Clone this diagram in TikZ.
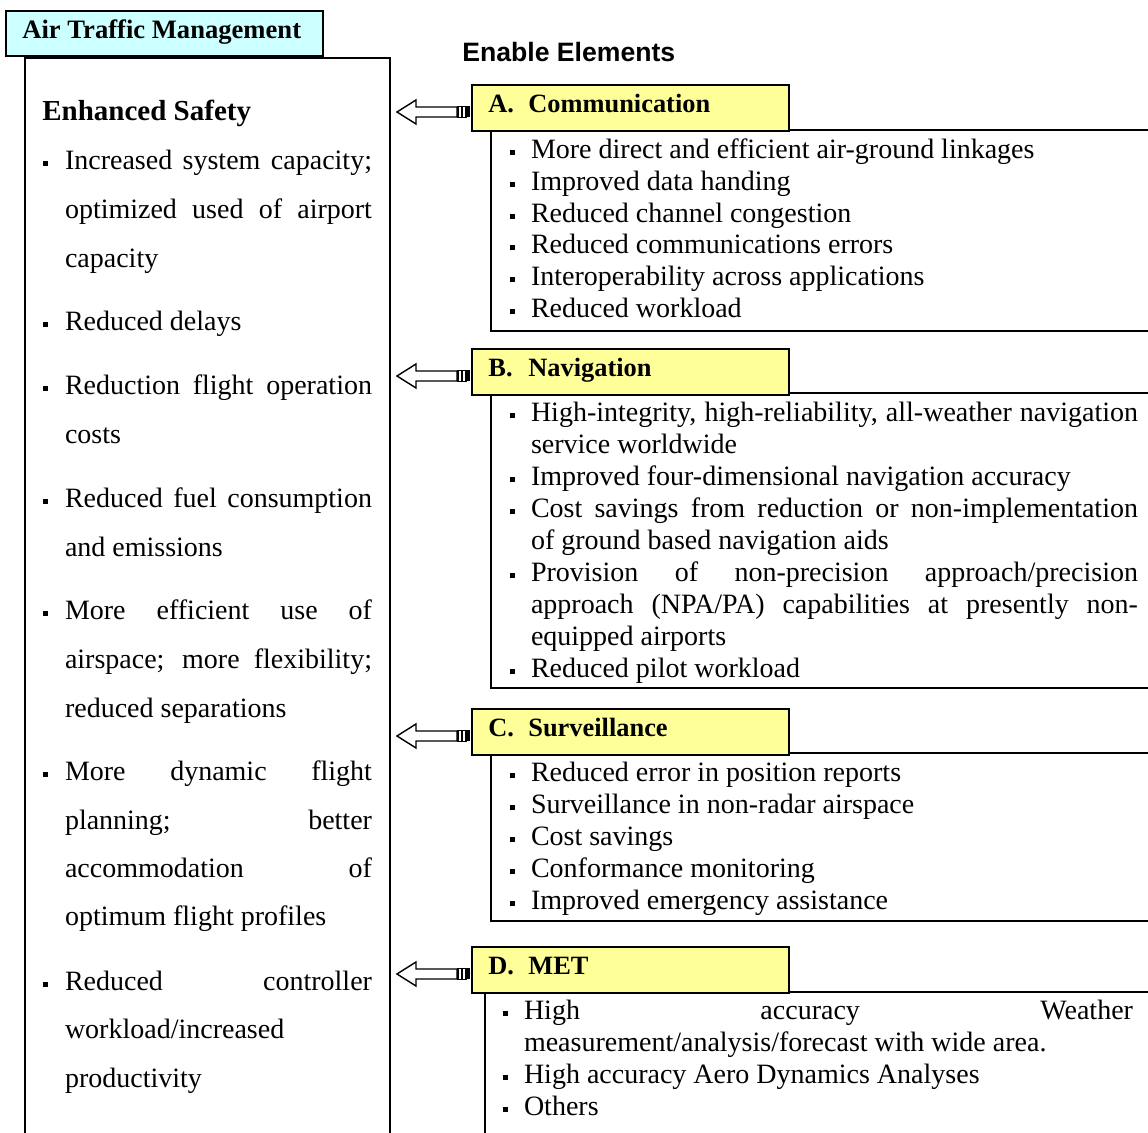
\documentclass[tikz,border=0pt]{standalone}
\usepackage{fontspec}
\setmainfont{Liberation Serif}
\setsansfont{Liberation Sans}
\definecolor{ylw}{HTML}{FFFF99}
\definecolor{cyn}{HTML}{CCFFFF}
\newcommand\myitm[5]{%
  \node[bul] (#1b) at (#2,#4-6.5) {};
  \node[txt] (#1) at (#3,#4) {#5};}
\newcommand\mycnt[4]{\node[txt] (#1) at (#2,#3) {#4};}
\newcommand\jstL[1]{\makebox[153.5pt][s]{#1}}
\newcommand\jstR[1]{\makebox[303.5pt][s]{#1}}
\newcommand\jstD[1]{\makebox[304.5pt][s]{#1}}
\newcommand\tailarrow[1]{%
  \begin{scope}[shift={(#1.west)}]
    \draw[arr] (-74,4) -- (-55,-8) -- (-55,-1) -- (-14,-1) -- (-14,9) -- (-55,9) -- (-55,16) -- cycle;
    \draw[arr] (-13,-1.5) rectangle (-9.5,9.5);
    \draw[arr] (-8.5,-1.5) rectangle (-5,9.5);
    \fill (-4,-1.5) rectangle (-1,9.5);
  \end{scope}}
\begin{document}
\begin{tikzpicture}[x=0.5pt,y=-0.5pt,
  txt/.style={inner sep=0pt, outer sep=0pt, font=\fontsize{14}{16}\selectfont, anchor=base west},
  bul/.style={fill=black, inner sep=0pt, minimum size=2.9pt},
  ybox/.style={draw, line width=1pt, fill=ylw, inner sep=0pt, anchor=north west, minimum width=158.5pt, minimum height=23pt},
  hd/.style={inner sep=0pt, font=\fontsize{13.2}{15}\selectfont\bfseries, anchor=base west},
  cbox/.style={draw, line width=0.75pt},
  arr/.style={draw, line width=0.7pt, fill=white}
]
\useasboundingbox (0,0) rectangle (1148,1133);
\clip (0,0) rectangle (1148,1133);

% left column
\draw[line width=0.75pt] (25,1145) -- (25,58) -- (390,58) -- (390,1145);
\node[draw, line width=1pt, fill=cyn, anchor=north west, minimum width=158.5pt, minimum height=22.5pt, inner sep=0pt] (atm) at (5,10) {};
\node[inner sep=0pt, anchor=base west, font=\fontsize{13.3}{15}\selectfont\bfseries] (atmt) at (22,39) {Air Traffic Management};
\node[inner sep=0pt, anchor=base west, font=\fontsize{14.5}{16}\selectfont\bfseries] (es) at (42,121) {Enhanced Safety};

\myitm{l1}{45.5}{65}{170}{\jstL{Increased system capacity;}}
\mycnt{l1a}{65}{219}{\jstL{optimized used of airport}}
\mycnt{l1c}{65}{268}{capacity}
\myitm{l2}{45.5}{65}{331}{Reduced delays}
\myitm{l3}{45.5}{65}{395}{\jstL{Reduction flight operation}}
\mycnt{l3a}{65}{444}{costs}
\myitm{l4}{45.5}{65}{508}{\jstL{Reduced fuel consumption}}
\mycnt{l4a}{65}{557}{and emissions}
\myitm{l5}{45.5}{65}{620}{\jstL{More efficient use of}}
\mycnt{l5a}{65}{669}{\jstL{airspace; more flexibility;}}
\mycnt{l5c}{65}{718}{reduced separations}
\myitm{l6}{45.5}{65}{781}{\jstL{More dynamic flight}}
\mycnt{l6a}{65}{830}{\jstL{planning; better}}
\mycnt{l6c}{65}{878}{\jstL{accommodation of}}
\mycnt{l6d}{65}{926}{optimum flight profiles}
\myitm{l7}{45.5}{65}{991}{\jstL{Reduced controller}}
\mycnt{l7a}{65}{1039}{workload/increased}
\mycnt{l7c}{65}{1088}{productivity}

% right column
\node[inner sep=0pt, anchor=base west, font=\sffamily\fontsize{13.3}{15}\selectfont\bfseries] (ee) at (462,62) {Enable Elements};

% A
\draw[cbox] (491,130) rectangle (1160,331);
\node[ybox] (hA) at (471,84) {};
\node[hd] (hAt) at (488,113) {\makebox[20pt][l]{A.}Communication};
\tailarrow{hA}
\myitm{a1}{512.5}{531}{159}{More direct and efficient air-ground linkages}
\myitm{a2}{512.5}{531}{191}{Improved data handing}
\myitm{a3}{512.5}{531}{223}{Reduced channel congestion}
\myitm{a4}{512.5}{531}{254}{Reduced communications errors}
\myitm{a5}{512.5}{531}{286}{Interoperability across applications}
\myitm{a6}{512.5}{531}{318}{Reduced workload}

% B
\draw[cbox] (491,393) rectangle (1160,688);
\node[ybox] (hB) at (471,348) {};
\node[hd] (hBt) at (488,377) {\makebox[20pt][l]{B.}Navigation};
\tailarrow{hB}
\myitm{n1}{512.5}{531}{422}{\jstR{High-integrity, high-reliability, all-weather navigation}}
\mycnt{n1a}{531}{454}{service worldwide}
\myitm{n2}{512.5}{531}{486}{Improved four-dimensional navigation accuracy}
\myitm{n3}{512.5}{531}{518}{\jstR{Cost savings from reduction or non-implementation}}
\mycnt{n3a}{531}{550}{of ground based navigation aids}
\myitm{n4}{512.5}{531}{582}{\jstR{Provision of non-precision approach/precision}}
\mycnt{n4a}{531}{614}{\jstR{approach (NPA/PA) capabilities at presently non-}}
\mycnt{n4c}{531}{646}{equipped airports}
\myitm{n5}{512.5}{531}{678}{Reduced pilot workload}

% C
\draw[cbox] (491,753) rectangle (1160,921);
\node[ybox] (hC) at (471,708) {};
\node[hd] (hCt) at (488,737) {\makebox[20pt][l]{C.}Surveillance};
\tailarrow{hC}
\myitm{s1}{512.5}{531}{782}{Reduced error in position reports}
\myitm{s2}{512.5}{531}{814}{Surveillance in non-radar airspace}
\myitm{s3}{512.5}{531}{846}{Cost savings}
\myitm{s4}{512.5}{531}{878}{Conformance monitoring}
\myitm{s5}{512.5}{531}{910}{Improved emergency assistance}

% D
\draw[cbox] (485,1145) -- (485,992) -- (1160,992);
\node[ybox] (hD) at (471,946) {};
\node[hd] (hDt) at (488,975) {\makebox[20pt][l]{D.}MET};
\tailarrow{hD}
\myitm{m1}{505.5}{524}{1020}{\jstD{High accuracy Weather}}
\mycnt{m1a}{524}{1052}{measurement/analysis/forecast with wide area.}
\myitm{m2}{505.5}{524}{1084}{High accuracy Aero Dynamics Analyses}
\myitm{m3}{505.5}{524}{1116}{Others}
\end{tikzpicture}
\end{document}
